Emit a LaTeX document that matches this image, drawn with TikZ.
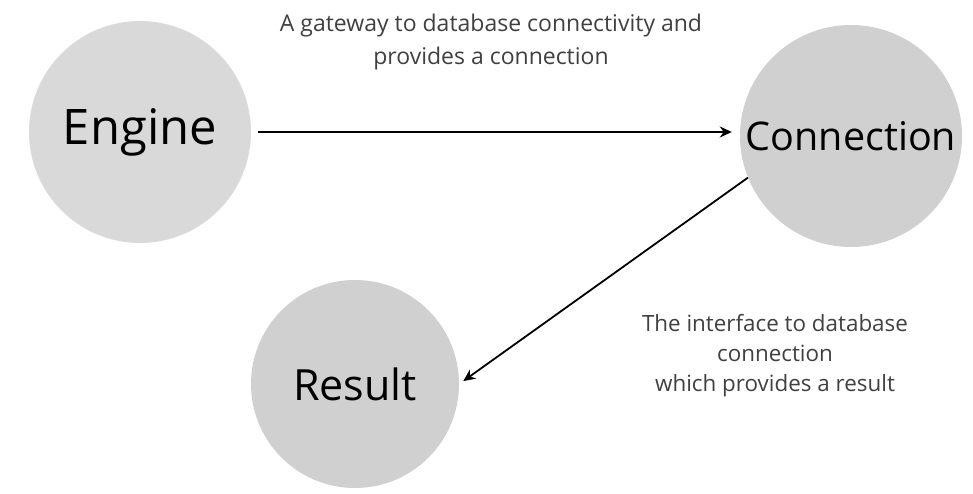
\documentclass[tikz,border=0pt]{standalone}
\usepackage{fontspec}
\setmainfont{Open Sans}
\usetikzlibrary{arrows.meta,positioning}
\definecolor{enginegray}{RGB}{217,217,217}
\definecolor{bubblegray}{RGB}{208,208,208}

\tikzset{
    bubble/.style={circle, fill=bubblegray, inner sep=0pt},
    note/.style={align=center, inner sep=0pt, text=black!75},
    link/.style={-{Stealth[length=12pt,width=11pt]}, line width=1.8pt},
}

\begin{document}
\begin{tikzpicture}[x=1pt,y=1pt]
    \useasboundingbox (0,0) rectangle (973,-494);

    \node[bubble, fill=enginegray, minimum size=222pt, font=\fontsize{49}{58}\selectfont] (engine) at (140,-132) {Engine};
    \node[bubble, minimum size=222pt, font=\fontsize{39.5}{48}\selectfont] (conn) at (851,-136) {Connection};
    \node[bubble, minimum size=208pt, font=\fontsize{43}{52}\selectfont] (result) at (355,-384) {Result};

    \draw[link, shorten <=7pt, shorten >=8pt] (engine.east) -- (engine.east -| conn.west);
    \draw[link, shorten >=5pt] (conn.202) -- (result.east);

    \node[note, font=\fontsize{23}{33}\selectfont] (gateway) at (491,-42) {A gateway to database connectivity and\\provides a connection};
    \node[note, font=\fontsize{22.4}{30}\selectfont] (iface) at (775,-356) {The interface to database\\connection\\which provides a result};
\end{tikzpicture}
\end{document}
